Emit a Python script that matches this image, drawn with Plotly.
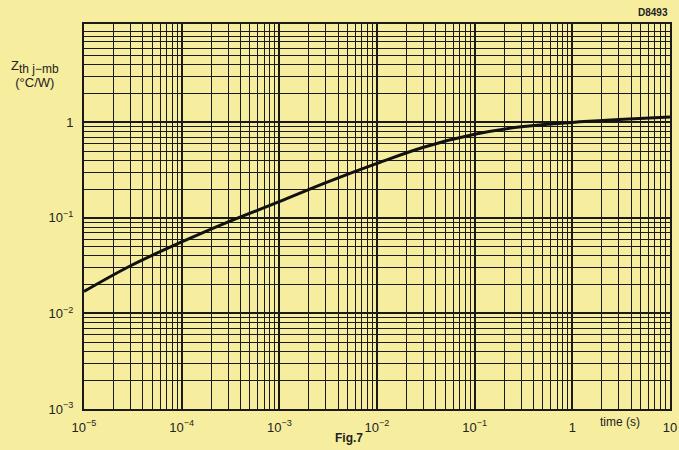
import plotly.graph_objects as go

# data (time in s, Zth in °C/W)
time_s = [1e-5, 3e-5, 1e-4, 3e-4, 1e-3, 3e-3, 1e-2, 3e-2, 1e-1, 3e-1, 1, 3, 10]
zth = [0.017, 0.0316, 0.056, 0.091, 0.148, 0.234, 0.372, 0.55, 0.75, 0.90, 1.0, 1.07, 1.14]

x_tickvals = [1e-5, 1e-4, 1e-3, 1e-2, 1e-1, 1, 10]
x_ticktext = ["10<sup>−5</sup>", "10<sup>−4</sup>", "10<sup>−3</sup>", "10<sup>−2</sup>",
              "10<sup>−1</sup>", "1", "10"]
y_tickvals = [1e-3, 1e-2, 1e-1, 1]
y_ticktext = ["10<sup>−3</sup>", "10<sup>−2</sup>", "10<sup>−1</sup>", "1"]

x_decades = [-5, -4, -3, -2, -1, 0]
y_decades = [-3, -2, -1, 0, 1]
mantissas = [2, 3, 4, 5, 6, 7, 8, 9]
x_minor = [m * 10.0 ** e for e in x_decades for m in mantissas]
y_minor = [m * 10.0 ** e for e in y_decades for m in mantissas]

BG = "#F6EE9E"
GRID = "#1a1a1a"
FONT = "Liberation Sans, Arial, sans-serif"

fig = go.Figure()
fig.add_trace(go.Scatter(x=time_s, y=zth, mode="lines",
                         line=dict(color="#111", width=3, shape="spline", smoothing=1),
                         showlegend=False, hoverinfo="skip"))

fig.update_xaxes(type="log", range=[-5, 1], tickmode="array", tickvals=x_tickvals,
                 ticktext=x_ticktext, showgrid=True, gridcolor=GRID, gridwidth=1.8,
                 minor=dict(tickmode="array", tickvals=x_minor, showgrid=True,
                            gridcolor=GRID, gridwidth=1.1, ticks=""),
                 showline=True, linecolor=GRID, linewidth=2, mirror=True,
                 ticks="", zeroline=False, ticklabelstandoff=5, automargin=False,
                 tickfont=dict(family=FONT, size=13, color="#222"))
fig.update_yaxes(type="log", range=[-3, 1.03], tickmode="array", tickvals=y_tickvals,
                 ticktext=y_ticktext, showgrid=True, gridcolor=GRID, gridwidth=1.8,
                 minor=dict(tickmode="array", tickvals=y_minor, showgrid=True,
                            gridcolor=GRID, gridwidth=1.1, ticks=""),
                 showline=True, linecolor=GRID, linewidth=2, mirror=True,
                 ticks="", zeroline=False, ticklabelstandoff=6, automargin=False,
                 tickfont=dict(family=FONT, size=13, color="#222"))

fig.add_annotation(text="Z<sub><span style='font-size:12px'>th j−mb</span></sub><br>(°C/W)",
                   xref="paper", yref="paper",
                   x=-0.128, y=0.87, xanchor="left", yanchor="middle", showarrow=False,
                   align="center", font=dict(family=FONT, size=13, color="#222"))
fig.add_annotation(text="time (s)", xref="paper", yref="paper", x=0.915, y=-0.034,
                   xanchor="center", yanchor="middle", showarrow=False,
                   font=dict(family=FONT, size=12, color="#222"))
fig.add_annotation(text="<b>Fig.7</b>", xref="paper", yref="paper", x=0.452, y=-0.075,
                   xanchor="center", yanchor="middle", showarrow=False,
                   font=dict(family=FONT, size=12, color="#222"))
fig.add_annotation(text="<b>D8493</b>", xref="paper", yref="paper", x=1.0, y=1.01,
                   xanchor="right", yanchor="bottom", showarrow=False,
                   font=dict(family=FONT, size=10, color="#222"))

fig.update_layout(width=679, height=450, paper_bgcolor=BG, plot_bgcolor=BG,
                  margin=dict(l=84, r=9, t=24, b=41),
                  font=dict(family=FONT, color="#222"))

fig.write_html("out.html", config={"displayModeBar": False},
               post_script="document.body.style.margin='0';"
                           "document.body.style.background='#F6EE9E';"
                           "document.body.style.overflow='hidden';")
